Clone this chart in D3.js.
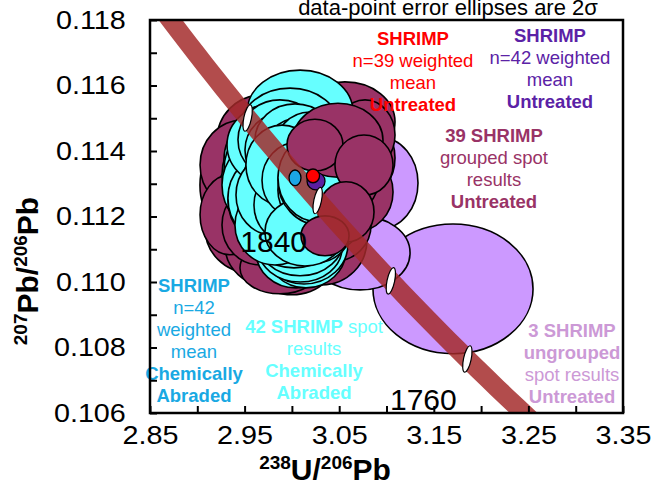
<!DOCTYPE html>
<html lang="en">
<head>
<meta charset="UTF-8">
<title>SHRIMP Tera-Wasserburg concordia</title>
<script src="https://d3js.org/d3.v7.min.js"></script>
<style>
  body { margin: 0; background: #fff; }
  svg { display: block; font-family: "Liberation Sans", Arial, sans-serif; }
  .tick text { font-size: 25px; fill: #000; }
  .tick line { stroke: #000; stroke-width: 2; }
</style>
</head>
<body>
<svg width="654" height="495"></svg>
<script>
// each spot: [238U/206Pb, ±2σ, 207Pb/206Pb, ±2σ]
const ungroupedUntreated = [
  [3.1703, 0.0846, 0.10979, 0.00198],
  [3.0931, 0.0402, 0.11302, 0.00140],
  [3.0720, 0.0529, 0.11089, 0.00113]
];

// untreated grouped spots, split by plotting order (back / front of the abraded set)
const untreatedBack = [
  [2.9504, 0.0476, 0.11296, 0.00168], [2.9557, 0.0476, 0.11165, 0.00137],
  [3.0001, 0.0507, 0.11098, 0.00137], [2.9768, 0.0476, 0.11113, 0.00128],
  [3.0318, 0.0476, 0.11128, 0.00137], [3.0561, 0.0529, 0.11489, 0.00122],
  [3.0773, 0.0317, 0.11379, 0.00116], [3.0667, 0.0402, 0.11275, 0.00122],
  [2.9684, 0.0476, 0.11434, 0.00137], [2.9473, 0.0444, 0.11357, 0.00137],
  [3.0086, 0.0476, 0.11250, 0.00137], [3.0191, 0.0476, 0.11342, 0.00128],
  [2.9927, 0.0476, 0.11296, 0.00137], [3.0403, 0.0423, 0.11235, 0.00122],
  [2.9747, 0.0423, 0.11214, 0.00137], [3.0297, 0.0476, 0.11434, 0.00128],
  [2.9980, 0.0476, 0.11464, 0.00128], [3.0508, 0.0423, 0.11327, 0.00128],
  [3.0086, 0.0476, 0.11144, 0.00128], [2.9610, 0.0423, 0.11250, 0.00137],
  [3.0212, 0.0423, 0.11519, 0.00092], [3.0773, 0.0317, 0.11449, 0.00107],
  [2.9346, 0.0317, 0.11205, 0.00122], [2.9874, 0.0423, 0.11043, 0.00079],
  [3.0033, 0.0444, 0.11357, 0.00128], [3.0244, 0.0444, 0.11281, 0.00128],
  [2.9874, 0.0444, 0.11250, 0.00128], [3.0350, 0.0423, 0.11357, 0.00122],
  [3.0138, 0.0444, 0.11189, 0.00122], [2.9768, 0.0423, 0.11311, 0.00134],
  [3.0561, 0.0381, 0.11403, 0.00116], [2.9980, 0.0423, 0.11403, 0.00122],
  [3.0456, 0.0381, 0.11174, 0.00110], [2.9663, 0.0402, 0.11174, 0.00122]
];
const untreatedFront = [
  [3.0487, 0.0476, 0.11433, 0.00113],
  [3.0244, 0.0296, 0.11418, 0.00079],
  [3.0762, 0.0307, 0.11357, 0.00092],
  [3.0572, 0.0296, 0.11214, 0.00092],
  [3.0350, 0.0254, 0.11141, 0.00061]
];

const chemicallyAbraded = [
  [3.0086, 0.0560, 0.11519, 0.00128],
  [3.0044, 0.0423, 0.11092, 0.00110], [3.0149, 0.0423, 0.11098, 0.00116],
  [3.0128, 0.0465, 0.11116, 0.00122], [3.0086, 0.0444, 0.11104, 0.00104],
  [3.0086, 0.0476, 0.11141, 0.00122], [3.0022, 0.0486, 0.11165, 0.00122],
  [2.9937, 0.0476, 0.11189, 0.00128], [2.9853, 0.0465, 0.11214, 0.00134],
  [2.9705, 0.0444, 0.11327, 0.00147], [2.9747, 0.0465, 0.11373, 0.00140],
  [2.9726, 0.0444, 0.11287, 0.00140], [2.9684, 0.0402, 0.11342, 0.00137],
  [2.9684, 0.0423, 0.11296, 0.00134], [2.9768, 0.0444, 0.11250, 0.00137],
  [2.9747, 0.0423, 0.11256, 0.00134],
  [2.9980, 0.0529, 0.11470, 0.00122], [2.9821, 0.0507, 0.11418, 0.00128],
  [2.9874, 0.0444, 0.11434, 0.00122], [2.9927, 0.0423, 0.11403, 0.00116],
  [3.0033, 0.0423, 0.11434, 0.00110], [2.9927, 0.0423, 0.11327, 0.00128],
  [3.0086, 0.0423, 0.11373, 0.00128], [3.0033, 0.0402, 0.11266, 0.00122],
  [3.0191, 0.0423, 0.11235, 0.00122], [3.0350, 0.0402, 0.11205, 0.00116],
  [2.9980, 0.0402, 0.11296, 0.00122], [3.0138, 0.0402, 0.11342, 0.00122],
  [2.9821, 0.0423, 0.11174, 0.00122], [3.0244, 0.0402, 0.11174, 0.00116],
  [2.9874, 0.0402, 0.11296, 0.00128], [3.0086, 0.0402, 0.11205, 0.00116],
  [3.0191, 0.0381, 0.11403, 0.00116], [2.9790, 0.0381, 0.11266, 0.00122],
  [3.0403, 0.0370, 0.11266, 0.00116], [2.9980, 0.0381, 0.11235, 0.00116],
  [2.9895, 0.0381, 0.11357, 0.00122], [3.0065, 0.0381, 0.11311, 0.00116],
  [3.0212, 0.0360, 0.11281, 0.00110], [3.0138, 0.0423, 0.11153, 0.00104],
  [3.0297, 0.0444, 0.11311, 0.00137], [3.0276, 0.0423, 0.11318, 0.00134]
];

// weighted means: n=42 untreated, n=39 untreated, n=42 chemically abraded
const meanUntreated42 = [3.0255, 0.0095, 0.11308, 0.00027];
const meanUntreated39 = [3.0223, 0.0069, 0.11324, 0.00021];
const meanAbraded42 = [3.0033, 0.0063, 0.11318, 0.00024];

const ageMarkers = [1760, 1800, 1840, 1880];   // Ma
const ageLabels = [1760, 1840];
const xTickLabels = [2.85, 2.95, 3.05, 3.15, 3.25, 3.35];
const yTickLabels = [0.106, 0.108, 0.110, 0.112, 0.114, 0.116, 0.118];

// ---- layout
const svg = d3.select("svg");
const x = d3.scaleLinear().domain([2.85, 3.35]).range([150, 623]);
const y = d3.scaleLinear().domain([0.106, 0.118]).range([413, 20]);

svg.append("defs").append("clipPath").attr("id", "plot")
  .append("rect").attr("x", 150).attr("y", 20).attr("width", 473).attr("height", 393);

const plot = svg.append("g").attr("clip-path", "url(#plot)");

function drawEllipses(data, fill, sw) {
  plot.append("g").selectAll("ellipse").data(data).enter().append("ellipse")
    .attr("cx", d => x(d[0]))
    .attr("cy", d => y(d[2]))
    .attr("rx", d => x(d[0] + d[1]) - x(d[0]))
    .attr("ry", d => y(d[2] - d[3]) - y(d[2]))
    .attr("fill", fill)
    .attr("stroke", "#000")
    .attr("stroke-width", sw || 1.6);
}

drawEllipses(ungroupedUntreated, "#cc99ff");
drawEllipses(untreatedBack, "#993366");
drawEllipses(chemicallyAbraded, "#66ffff");
drawEllipses(untreatedFront, "#993366");

// concordia (Tera-Wasserburg)
const L238 = 1.55125e-4, L235 = 9.8485e-4, U85 = 137.88;   // per Ma
function concordia(t) {
  const a = Math.expm1(L238 * t), b = Math.expm1(L235 * t);
  return [1 / a, b / a / U85];
}
const curve = d3.range(1680, 1981, 5).map(concordia);
plot.append("path")
  .attr("d", d3.line().x(d => x(d[0])).y(d => y(d[1]))(curve))
  .attr("fill", "none")
  .attr("stroke", "#a32a2a")
  .attr("stroke-opacity", 0.84)
  .attr("stroke-width", 19);

// weighted means
drawEllipses([meanAbraded42], "#1ba6e6", 1.3);
drawEllipses([meanUntreated42], "#5b1fa0", 1.3);
drawEllipses([meanUntreated39], "#ff0000", 1.3);

// age markers
plot.append("g").selectAll("ellipse").data(ageMarkers).enter().append("ellipse")
  .attr("transform", t => {
    const p = concordia(t);
    return `translate(${x(p[0])},${y(p[1])}) rotate(12)`;
  })
  .attr("rx", 3.8).attr("ry", 13.5)
  .attr("fill", "#fff").attr("stroke", "#000").attr("stroke-width", 1.2);

svg.append("g").selectAll("text").data(ageLabels).enter().append("text")
  .attr("x", t => x(concordia(t)[0]) - 44)
  .attr("y", t => y(concordia(t)[1]) + 51)
  .attr("text-anchor", "middle")
  .attr("font-size", 30)
  .text(t => t);

// annotations
const notes = [
  { at: [3.128, 0.11724], color: "#ff0000",
    lines: [[["SHRIMP", 1]], [["n=39 weighted", 0]], [["mean", 0]], [["Untreated", 1]]] },
  { at: [3.2728, 0.11733], color: "#5b22a6",
    lines: [[["SHRIMP", 1]], [["n=42 weighted", 0]], [["mean", 0]], [["Untreated", 1]]] },
  { at: [3.2136, 0.11427], color: "#993366",
    lines: [[["39 SHRIMP", 1]], [["grouped spot", 0]], [["results", 0]], [["Untreated", 1]]] },
  { at: [2.8965, 0.10970], color: "#19a9e3",
    lines: [[["SHRIMP", 1]], [["n=42", 0]], [["weighted", 0]], [["mean", 0]], [["Chemically", 1]], [["Abraded", 1]]] },
  { at: [3.0234, 0.10844], color: "#66ffff",
    lines: [[["42 SHRIMP", 1], [" spot", 0]], [["results", 0]], [["Chemically", 1]], [["Abraded", 1]]] },
  { at: [3.2961, 0.10832], color: "#cc99d6",
    lines: [[["3 SHRIMP", 1]], [["ungrouped", 1]], [["spot results", 0]], [["Untreated", 1]]] }
];
notes.forEach(n => {
  n.lines.forEach((parts, i) => {
    const t = svg.append("text")
      .attr("x", x(n.at[0]))
      .attr("y", y(n.at[1]) + i * 22)
      .attr("text-anchor", "middle")
      .attr("font-size", 18.5)
      .attr("fill", n.color);
    parts.forEach(p => t.append("tspan").attr("font-weight", p[1] ? "bold" : "normal").text(p[0]));
  });
});

// axes
const xTicksAll = d3.range(11).map(i => +(2.85 + i * 0.05).toFixed(2));
const yTicksAll = d3.range(13).map(i => +(0.106 + i * 0.001).toFixed(3));
const hasLabel = (arr, v) => arr.some(a => Math.abs(a - v) < 1e-9);

const gx = svg.append("g").attr("transform", "translate(0,413)")
  .call(d3.axisBottom(x).tickValues(xTicksAll).tickSize(-7).tickPadding(13)
    .tickFormat(d => hasLabel(xTickLabels, d) ? d3.format(".2f")(d) : ""));
const gy = svg.append("g").attr("transform", "translate(150,0)")
  .call(d3.axisLeft(y).tickValues(yTicksAll).tickSize(-7).tickPadding(21)
    .tickFormat(d => hasLabel(yTickLabels, d) ? d3.format(".3f")(d) : ""));
gx.select(".domain").remove();
gy.select(".domain").remove();
// the source's tick numbers are a little wider than plain Arial
svg.selectAll(".tick text").attr("font-family", null).attr("transform", "scale(1.15,1)");

svg.append("rect").attr("x", 150).attr("y", 20).attr("width", 473).attr("height", 393)
  .attr("fill", "none").attr("stroke", "#000").attr("stroke-width", 2.5);

// axis titles: [text, isSuperscript]
function supTitle(sel, parts) {
  parts.forEach((p, i) => {
    sel.append("tspan")
      .attr("font-size", p[1] ? 19 : 30)
      .attr("dy", p[1] ? -11 : 11)
      .text(p[0]);
  });
}
const xt = svg.append("text").attr("x", 325).attr("y", 480).attr("text-anchor", "middle")
  .attr("font-weight", "bold");
supTitle(xt, [["238", 1], ["U/", 0], ["206", 1], ["Pb", 0]]);

const yt = svg.append("text").attr("transform", "translate(38,271) rotate(-90)")
  .attr("text-anchor", "middle").attr("font-weight", "bold");
supTitle(yt, [["207", 1], ["Pb/", 0], ["206", 1], ["Pb", 0]]);

// header, partly cut by the top edge as in the source figure
svg.append("text").attr("x", 448).attr("y", 15).attr("text-anchor", "middle")
  .attr("font-size", 22).text("data-point error ellipses are 2σ");
</script>
</body>
</html>
